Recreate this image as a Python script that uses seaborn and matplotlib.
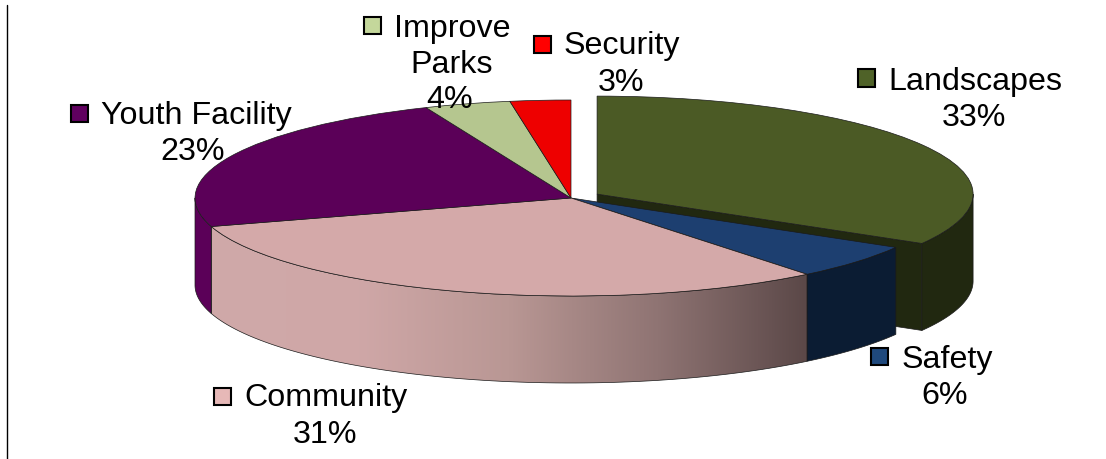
import numpy as np
import seaborn as sns
import matplotlib.pyplot as plt
from matplotlib.lines import Line2D
from matplotlib.patches import Polygon, Rectangle

# shares, the labels show them rounded
categories = ['Landscapes', 'Safety', 'Community', 'Youth Facility', 'Improve Parks', 'Security']
shares = [33.4, 5.8, 31.1, 23.4, 3.7, 2.6]
exploded = [0.08, 0, 0, 0, 0, 0]

top_colors = ['#4b5a25', '#1d3f70', '#d4a9a9', '#5b0058', '#b5c68f', '#ee0000']
wall_colors = ['#212810', '#0b1c33', None, '#5b0058', '#7a8a5a', '#a00000']
key_colors = ['#4f6228', '#1f497d', '#e6b8b7', '#60005f', '#c4d79b', '#ff0000']
community_shades = ['#d0a9a9', '#cfa7a7', '#b99794', '#8f7473', '#5b4848']

WIDTH, HEIGHT = 1106, 459
CENTER_X, CENTER_Y = 571, 198
RX, RY = 376, 98
DEPTH = 87 / RY
EDGE = '#1a1a1a'

# label layout in pixels: key box, then text lines (x, y, ha, text)
label_layout = {
    'Landscapes': ((866, 78), [(888, 82, 'left', 'Landscapes'), (974, 118, 'center', '{}%')]),
    'Safety': ((879, 356), [(902, 360, 'left', 'Safety'), (945, 396, 'center', '{}%')]),
    'Community': ((222, 396), [(244, 398, 'left', 'Community'), (325, 435, 'center', '{}%')]),
    'Youth Facility': ((79, 113), [(101, 116, 'left', 'Youth Facility'), (193, 152, 'center', '{}%')]),
    'Improve Parks': ((372, 25), [(394, 29, 'left', 'Improve'), (452, 65, 'center', 'Parks'), (450, 100, 'center', '{}%')]),
    'Security': ((542, 44), [(564, 46, 'left', 'Security'), (621, 83, 'center', '{}%')]),
}


def wall_points(theta1, theta2, cx, cy):
    # front side of one slice, only the part below the ellipse's middle line
    lo, hi = max(theta1, -180), min(theta2, 0)
    if lo >= hi:
        return None
    t = np.radians(np.linspace(lo, hi, 80))
    x = cx + np.cos(t)
    y = cy + np.sin(t)
    return np.r_[np.c_[x, y], np.c_[x, y - DEPTH][::-1]]


sns.set_theme(style='white')
plt.rcParams['font.family'] = ['Liberation Sans', 'DejaVu Sans']

fig, ax = plt.subplots(figsize=(WIDTH / 100, HEIGHT / 100), dpi=100)
ax.set_position([0, 0, 1, 1])

wedges, _ = ax.pie(shares, colors=top_colors, explode=exploded, startangle=90,
                   counterclock=False, wedgeprops={'edgecolor': EDGE, 'linewidth': 0.5})
ax.set_aspect('auto')
for wedge in wedges:
    wedge.set_zorder(5)

# walls are built from the same angles as the slices
for i, wedge in enumerate(wedges):
    cx, cy = wedge.center
    pts = wall_points(wedge.theta1, wedge.theta2, cx, cy)
    if categories[i] == 'Landscapes':
        # cut face of the pulled out slice
        end = np.radians(wedge.theta1)
        ex, ey = cx + np.cos(end), cy + np.sin(end)
        cut = [(cx, cy), (ex, ey), (ex, ey - DEPTH), (cx, cy - DEPTH)]
        ax.add_patch(Polygon(cut, closed=True, fc=wall_colors[i], ec=EDGE, lw=0.5, zorder=1))
    if pts is None:
        continue
    if wall_colors[i] is None:
        cmap = sns.blend_palette(community_shades, as_cmap=True)
        poly = Polygon(pts, closed=True, fc='none', ec=EDGE, lw=0.5, zorder=3)
        ax.add_patch(poly)
        img = ax.imshow(np.linspace(0, 1, 256)[None, :], cmap=cmap, aspect='auto', zorder=2,
                        extent=(pts[:, 0].min(), pts[:, 0].max(), pts[:, 1].min(), pts[:, 1].max()))
        img.set_clip_path(poly)
    else:
        ax.add_patch(Polygon(pts, closed=True, fc=wall_colors[i], ec=EDGE, lw=0.5, zorder=2))

ax.set_xlim(-CENTER_X / RX, (WIDTH - CENTER_X) / RX)
ax.set_ylim((CENTER_Y - HEIGHT) / RY, CENTER_Y / RY)
ax.axis('off')

# labels with their little boxes
for name, share, key_color in zip(categories, shares, key_colors):
    (kx, ky), lines = label_layout[name]
    fig.add_artist(Rectangle(((kx - 8.5) / WIDTH, 1 - (ky + 8.5) / HEIGHT), 17 / WIDTH, 17 / HEIGHT,
                             transform=fig.transFigure, fc=key_color, ec='black', lw=1.5, zorder=10))
    for x, y, ha, text in lines:
        fig.text(x / WIDTH, 1 - y / HEIGHT, text.format(round(share)), ha=ha, va='center',
                 fontsize=23.2, color='black', zorder=11)

fig.add_artist(Line2D([7 / WIDTH, 7 / WIDTH], [0, 1 - 5 / HEIGHT], transform=fig.transFigure,
                      color='black', lw=1))

fig.savefig('out.png', dpi=100)
